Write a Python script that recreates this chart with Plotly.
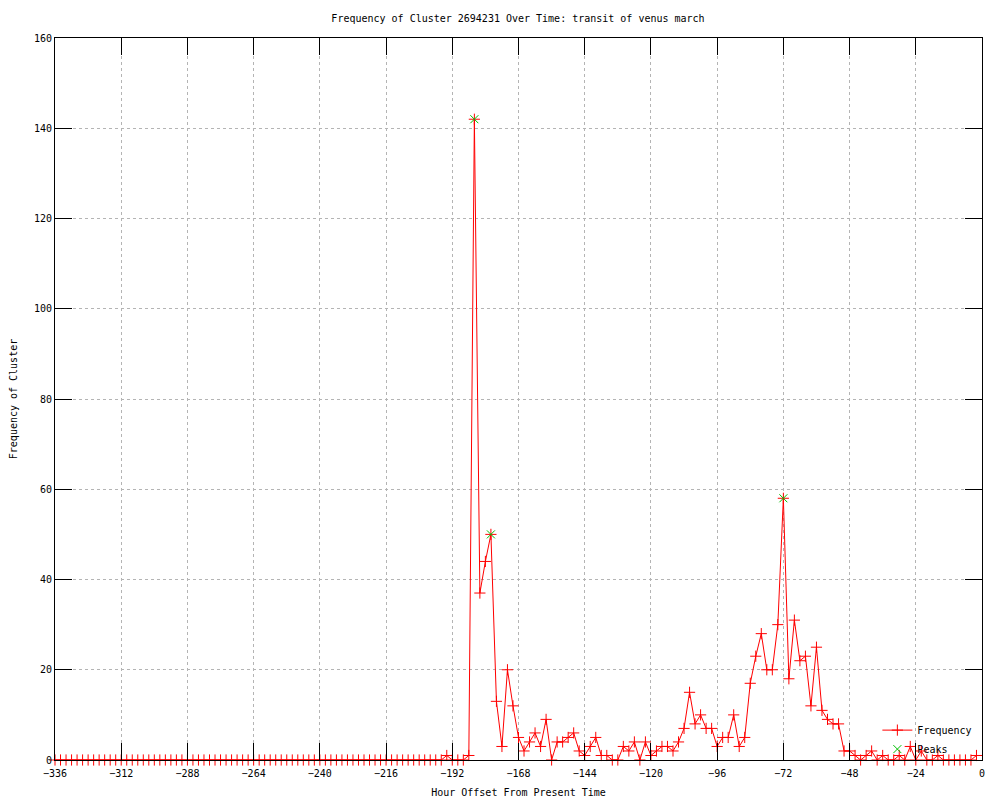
import plotly.graph_objects as go

# Hours offset from present time (every 2 hours)
hours = list(range(-336, 0, 2))

# Frequency of cluster at each hour offset
freq = [
    # -336 .. -196
    0, 0, 0, 0, 0, 0, 0, 0, 0, 0, 0, 0,
    0, 0, 0, 0, 0, 0, 0, 0, 0, 0, 0, 0,
    0, 0, 0, 0, 0, 0, 0, 0, 0, 0, 0, 0,
    0, 0, 0, 0, 0, 0, 0, 0, 0, 0, 0, 0,
    0, 0, 0, 0, 0, 0, 0, 0, 0, 0, 0, 0,
    0, 0, 0, 0, 0, 0, 0, 0, 0, 0, 0,
    # -194 .. -2
    1, 0, 0, 0, 1, 142, 37, 44, 50, 13, 3, 20, 12, 5, 2, 4, 6, 3, 9, 0,
    4, 4, 5, 6, 2, 1, 3, 5, 1, 1, 0, 0, 3, 2, 4, 0, 4, 1, 2, 3,
    3, 2, 4, 7, 15, 8, 10, 7, 7, 3, 5, 5, 10, 3, 5, 17, 23, 28, 20, 20,
    30, 58, 18, 31, 22, 23, 12, 25, 11, 9, 8, 8, 2, 2, 1, 0, 1, 2, 0, 1,
    0, 0, 1, 0, 3, 0, 2, 0, 0, 1, 0, 0, 0, 0, 0, 0, 1,
]
assert len(freq) == len(hours)

# Detected peaks
peak_hours = [-184, -178, -72]
peak_vals = [142, 50, 58]

x_ticks = [-336, -312, -288, -264, -240, -216, -192, -168, -144, -120, -96, -72, -48, -24, 0]
y_ticks = [0, 20, 40, 60, 80, 100, 120, 140, 160]

FONT = "DejaVu Sans Mono"

fig = go.Figure()
fig.add_trace(go.Scatter(
    x=hours, y=freq, mode="lines+markers", name="Frequency",
    line=dict(color="#ff0000", width=1),
    marker=dict(symbol="cross-thin", size=8, color="#ff0000",
                line=dict(color="#ff0000", width=1)),
    cliponaxis=False,
))
fig.add_trace(go.Scatter(
    x=peak_hours, y=peak_vals, mode="markers", name="Peaks",
    marker=dict(symbol="x-thin", size=8, color="#00c000",
                line=dict(color="#00c000", width=1)),
    cliponaxis=False,
))

axis_common = dict(
    showline=True, linecolor="black", linewidth=1, mirror="ticks",
    ticks="inside", ticklen=17, tickcolor="black", tickwidth=1,
    showgrid=True, gridcolor="#b4b4b4", griddash="dot", gridwidth=1,
    zeroline=False, automargin=False,
    tickfont=dict(family=FONT, size=10, color="black"),
)

fig.update_layout(
    width=1000, height=800,
    paper_bgcolor="white", plot_bgcolor="white",
    margin=dict(l=55, r=18, t=38, b=40),
    font=dict(family=FONT, size=10, color="black"),
    title=dict(text="Frequency of Cluster 2694231 Over Time: transit of venus march",
               x=0.518, xanchor="center", y=0.977, yanchor="middle",
               font=dict(family=FONT, size=10, color="black")),
    xaxis=dict(range=[-336, 0], tickvals=x_ticks, ticklabelstandoff=4,
               title=dict(text="Hour Offset From Present Time", standoff=10,
                          font=dict(family=FONT, size=10)),
               **axis_common),
    yaxis=dict(range=[0, 160], tickvals=y_ticks,
               title=dict(text="Frequency of Cluster", standoff=14,
                          font=dict(family=FONT, size=10)),
               **axis_common),
    showlegend=True,
    legend=dict(x=0.995, y=-0.005, xanchor="right", yanchor="bottom",
                bgcolor="rgba(0,0,0,0)", font=dict(family=FONT, size=10),
                tracegroupgap=0, itemwidth=30),
)

fig.write_html("out.html", post_script="document.body.style.margin='0';",
               config={"displayModeBar": False})
